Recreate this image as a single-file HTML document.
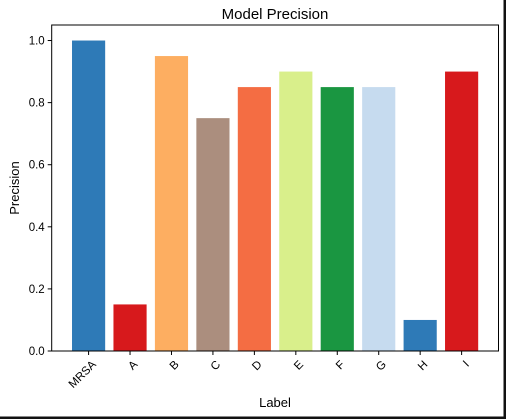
<!DOCTYPE html>
<html><head><meta charset="utf-8"><style>
html,body{margin:0;padding:0;background:#fff;}
svg{display:block;font-family:"Liberation Sans","DejaVu Sans",sans-serif;}
</style></head><body>
<svg id="chart" width="506" height="419" viewBox="0 0 506 419">
<rect x="0" y="0" width="506" height="419" fill="#fff"/>
<rect x="503.5" y="0" width="3" height="419" fill="#111"/>
<rect x="0" y="416.5" width="506" height="3" fill="#111"/>
<g id="bars"></g>
<g id="axes"></g>
<text x="275" y="19" text-anchor="middle" font-size="15">Model Precision</text>
<text x="275" y="407" text-anchor="middle" font-size="13">Label</text>
<text transform="translate(19,188) rotate(-90)" text-anchor="middle" font-size="13">Precision</text>
</svg>
<script>
const categories = ["MRSA","A","B","C","D","E","F","G","H","I"];
const values = [1.0,0.15,0.95,0.75,0.85,0.9,0.85,0.85,0.1,0.9];
const colors = ["#2e7ab7","#d7191c","#fdae61","#ab8e7e","#f46d43","#d9ef8b","#1a9641","#c6dbef","#2e7ab7","#d7191c"];
const yTicks = [0.0,0.2,0.4,0.6,0.8,1.0];
const yTickLabels = ["0.0","0.2","0.4","0.6","0.8","1.0"];

const NS="http://www.w3.org/2000/svg";
const L=51.7,R=498.5,T=25,B=351;
const xmin=-0.89,xmax=categories.length-1+0.89;
const ymax=1.05;
function xs(i){return L+(i-xmin)/(xmax-xmin)*(R-L);}
function ys(v){return B-v/ymax*(B-T);}
const bw=0.8*(xs(1)-xs(0));
const bars=document.getElementById('bars'),axes=document.getElementById('axes');
function mk(tag,attrs,parent){const e=document.createElementNS(NS,tag);for(const k in attrs)e.setAttribute(k,attrs[k]);parent.appendChild(e);return e;}
values.forEach((v,i)=>{
  const r=mk('rect',{x:xs(i)-bw/2,y:ys(v),width:bw,height:B-ys(v),fill:colors[i]},bars);
  
  
  const t=mk('line',{x1:xs(i),x2:xs(i),y1:B,y2:B+4,stroke:'#000','stroke-width':1},axes);
  
  
  const lx=xs(i)+3,ly=B+9;
  const tx=mk('text',{x:lx,y:ly,'text-anchor':'end','font-size':'11.5','dominant-baseline':'hanging',transform:`rotate(-45 ${lx} ${ly})`},axes);
  tx.textContent=categories[i];
  
  
});
yTicks.forEach((v,i)=>{
  const y=ys(v);
  const t=mk('line',{x1:L-4,x2:L,y1:y,y2:y,stroke:'#000','stroke-width':1},axes);
  
  
  const tx=mk('text',{x:L-7,y:y+4,'text-anchor':'end','font-size':'11.5'},axes);
  tx.textContent=yTickLabels[i];
  
  
});
const frame=mk('rect',{x:L,y:T,width:R-L,height:B-T,fill:'none',stroke:'#000','stroke-width':1},axes);


</script>
</body></html>
